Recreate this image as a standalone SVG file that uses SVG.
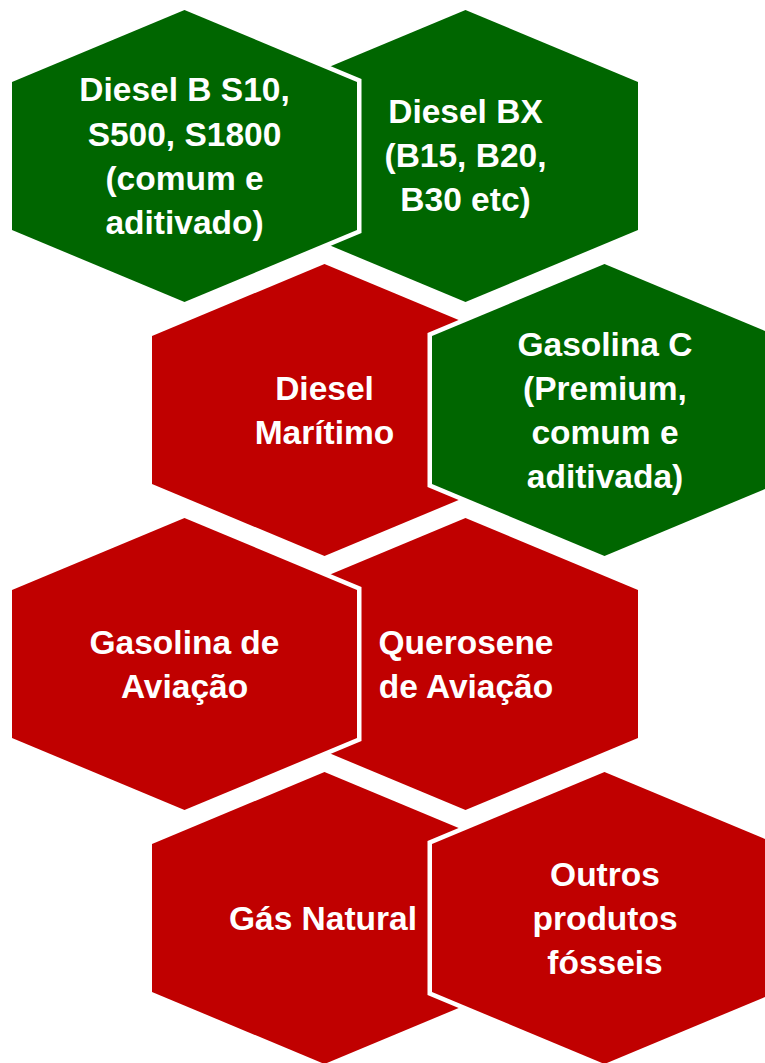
<svg xmlns="http://www.w3.org/2000/svg" width="765" height="1063" viewBox="0 0 765 1063">
<style>
.hex{stroke:#ffffff;stroke-width:9;stroke-linejoin:miter;paint-order:stroke}
.g{fill:#006600}
.r{fill:#C00000}
.t{font-family:"Liberation Sans",Arial,sans-serif;font-weight:bold;font-size:33.5px;fill:#ffffff;text-anchor:middle}
</style>
<rect width="765" height="1063" fill="#ffffff"/>
<g id="node-diesel-bx">
<polygon class="hex g" points="465.5,10 638,82 638,230 465.5,302 293,230 293,82"/>
<text class="t"><tspan x="465.5" y="123">Diesel BX</tspan><tspan x="465.5" y="167">(B15, B20,</tspan><tspan x="465.5" y="211">B30 etc)</tspan></text>
</g>
<g id="node-diesel-b">
<polygon class="hex g" points="184.5,10 357,82 357,230 184.5,302 12,230 12,82"/>
<text class="t"><tspan x="184.5" y="101">Diesel B S10,</tspan><tspan x="184.5" y="145.5">S500, S1800</tspan><tspan x="184.5" y="189.5">(comum e</tspan><tspan x="184.5" y="233.5">aditivado)</tspan></text>
</g>
<g id="node-diesel-maritimo">
<polygon class="hex r" points="324.5,264 497,336 497,484 324.5,556 152,484 152,336"/>
<text class="t"><tspan x="324.5" y="399.5">Diesel</tspan><tspan x="324.5" y="443.5">Marítimo</tspan></text>
</g>
<g id="node-gasolina-c">
<polygon class="hex g" points="604.5,264 777,336 777,484 604.5,556 432,484 432,336"/>
<text class="t"><tspan x="605" y="355.5">Gasolina C</tspan><tspan x="605" y="399.5">(Premium,</tspan><tspan x="605" y="443.5">comum e</tspan><tspan x="605" y="487.5">aditivada)</tspan></text>
</g>
<g id="node-querosene">
<polygon class="hex r" points="465.5,518 638,590 638,738 465.5,810 293,738 293,590"/>
<text class="t"><tspan x="466" y="653.5">Querosene</tspan><tspan x="466" y="697.5">de Aviação</tspan></text>
</g>
<g id="node-gasolina-aviacao">
<polygon class="hex r" points="184.5,518 357,590 357,738 184.5,810 12,738 12,590"/>
<text class="t"><tspan x="184.5" y="653.5">Gasolina de</tspan><tspan x="184.5" y="697.5">Aviação</tspan></text>
</g>
<g id="node-gas-natural">
<polygon class="hex r" points="324.5,772 497,844 497,992 324.5,1064 152,992 152,844"/>
<text class="t"><tspan x="323" y="929.5">Gás Natural</tspan></text>
</g>
<g id="node-outros">
<polygon class="hex r" points="604.5,772 777,844 777,992 604.5,1064 432,992 432,844"/>
<text class="t"><tspan x="605" y="885.5">Outros</tspan><tspan x="605" y="929.5">produtos</tspan><tspan x="605" y="973.5">fósseis</tspan></text>
</g>
</svg>
